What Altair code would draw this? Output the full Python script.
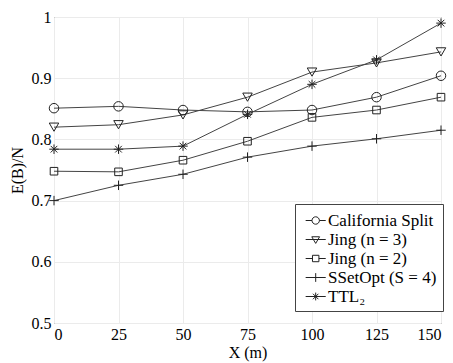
import altair as alt
import pandas as pd

xs = [0, 25, 50, 75, 100, 125, 150]
series_names = ["California Split", "Jing (n = 3)", "Jing (n = 2)", "SSetOpt (S = 4)", "TTL₂"]
california = [0.851, 0.854, 0.848, 0.845, 0.848, 0.869, 0.904]
jing3 = [0.820, 0.824, 0.840, 0.869, 0.910, 0.925, 0.943]
jing2 = [0.748, 0.747, 0.766, 0.797, 0.836, 0.848, 0.869]
ssetopt = [0.700, 0.725, 0.743, 0.771, 0.789, 0.801, 0.815]
ttl2 = [0.784, 0.784, 0.789, 0.841, 0.890, 0.930, 0.990]

rows = []
for name, vals in zip(series_names, [california, jing3, jing2, ssetopt, ttl2]):
    for x, v in zip(xs, vals):
        rows.append({"X": x, "Y": v, "series": name})
df = pd.DataFrame(rows)

point_shapes = [
    "circle",
    "triangle-down",
    "M-0.8,-0.8H0.8V0.8H-0.8Z",
    "M-1,0H1M0,-1V1",
    "M-1,0H1M0,-1V1M-0.7,-0.7L0.7,0.7M-0.7,0.7L0.7,-0.7",
]
legend_shapes = [
    "M-0.6,0H0.05M0.81,0H1.46M0.81,0A0.38,0.38 0 1,0 0.05,0A0.38,0.38 0 1,0 0.81,0Z",
    "M-0.6,0H1.46M0.03,-0.28L0.83,-0.28L0.43,0.4Z",
    "M-0.6,0H0.10M0.76,0H1.46M0.10,-0.33H0.76V0.33H0.10Z",
    "M-0.6,0H1.46M0.43,-0.45V0.45",
    "M-0.6,0H1.46M0.43,-0.4V0.4M0.15,-0.28L0.71,0.28M0.15,0.28L0.71,-0.28",
]

FONT = "Liberation Serif"

xenc = alt.X("X:Q", scale=alt.Scale(domain=[0, 150], nice=False),
             axis=alt.Axis(values=xs, title="X (m)", format="d"))
yenc = alt.Y("Y:Q", scale=alt.Scale(domain=[0.5, 1.0], nice=False, zero=False),
             axis=alt.Axis(values=[0.5, 0.6, 0.7, 0.8, 0.9, 1.0], title="E(B)/N", format=".1~f"))

lines = alt.Chart(df).mark_line(color="#444444", strokeWidth=1).encode(
    x=xenc, y=yenc, detail="series:N")

points = alt.Chart(df).mark_point(filled=False, color="#222222", strokeWidth=1, size=90, opacity=1).encode(
    x=xenc, y=yenc,
    shape=alt.Shape("series:N", scale=alt.Scale(domain=series_names, range=point_shapes), legend=None))

legend_layer = alt.Chart(df).mark_point(filled=False, color="#222222", strokeWidth=1, size=0, opacity=1).encode(
    x=xenc, y=yenc,
    shape=alt.Shape("series:N", scale=alt.Scale(domain=series_names, range=legend_shapes),
                    legend=alt.Legend(title=None, orient="none", legendX=241, legendY=187,
                                      symbolSize=380, symbolStrokeWidth=1, symbolStrokeColor="#222222",
                                      symbolFillColor="transparent",
                                      labelFont=FONT, labelFontSize=17, labelColor="black",
                                      labelLimit=300,
                                      strokeColor="#444444", fillColor="white", padding=6,
                                      rowPadding=0, labelOffset=6)))

chart = alt.layer(lines, points, legend_layer).resolve_scale(shape="independent").properties(
    width=387, height=306,
    autosize=alt.AutoSizeParams(type="none"),
    padding={"left": 54, "top": 17, "right": 12, "bottom": 40},
).configure_view(stroke="#555555", strokeWidth=1).configure_axis(
    labelFont=FONT, titleFont=FONT, labelFontSize=16, titleFontSize=16,
    labelColor="black", titleColor="black", titleFontWeight="normal",
    grid=True, gridColor="#ebebeb", gridWidth=1, domain=False, ticks=False,
    labelPadding=3,
).configure_axisY(titlePadding=6).configure_axisX(titlePadding=2)

chart.save("out.html", embed_options={"renderer": "svg", "actions": False})
